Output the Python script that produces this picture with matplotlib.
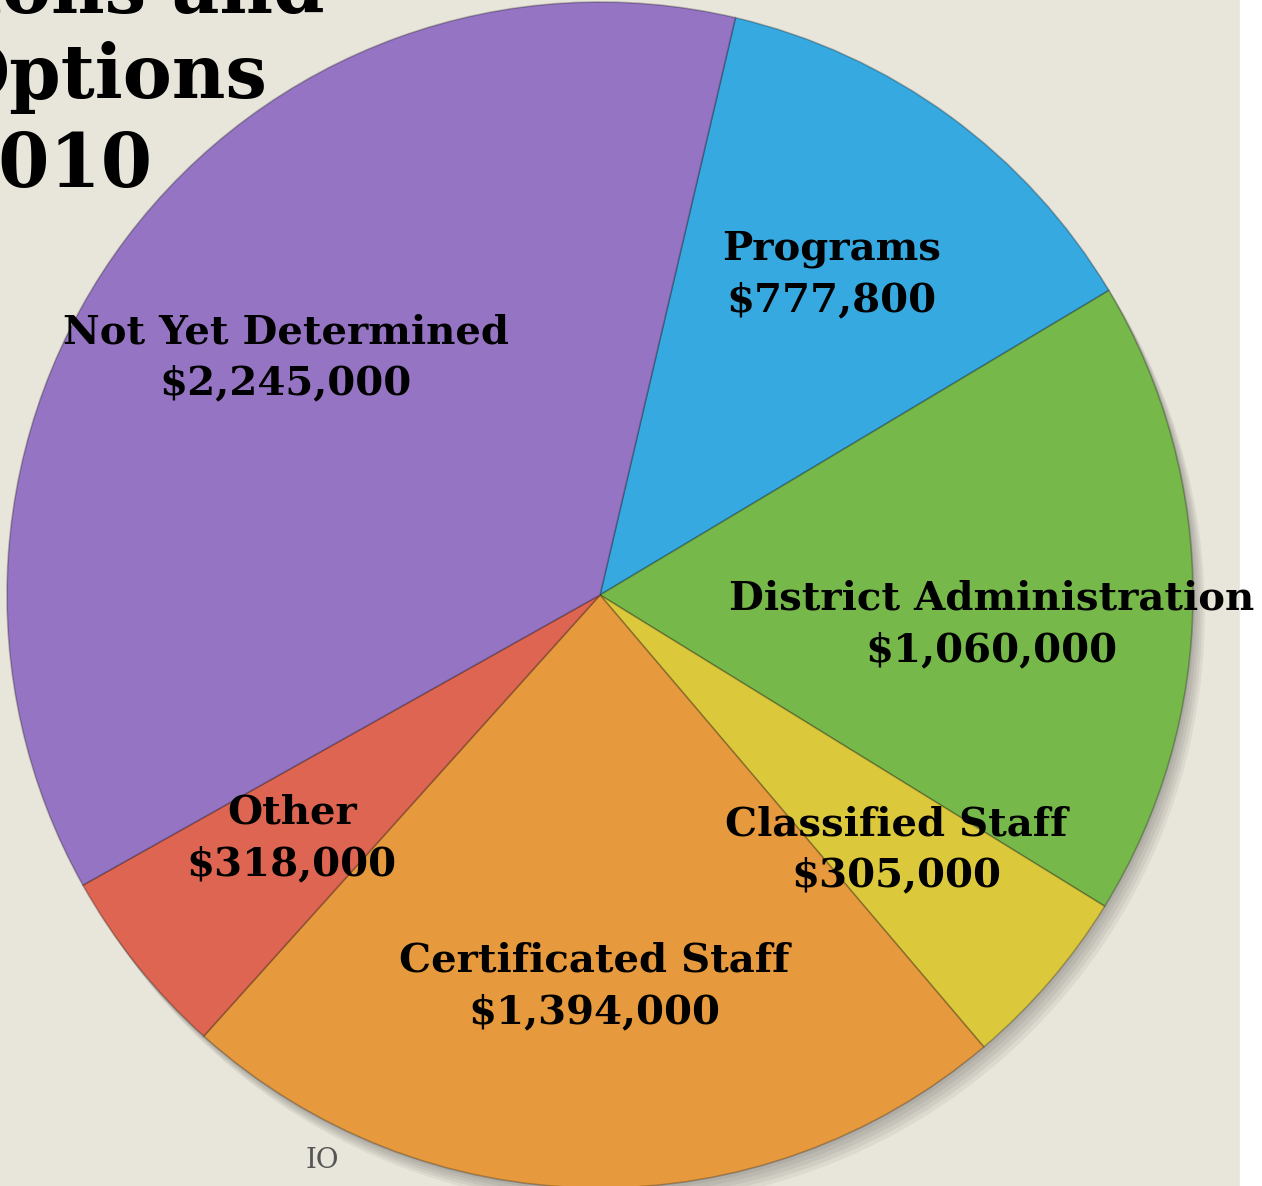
import numpy as np
import matplotlib.pyplot as plt
from matplotlib.patches import Rectangle, Circle

# budget split (clockwise from the top)
labels = ["Programs", "District Administration", "Classified Staff",
          "Certificated Staff", "Other", "Not Yet Determined"]
amounts = [777800, 1060000, 305000, 1394000, 318000, 2245000]
colors = ["#37a9e1", "#77b84b", "#dcc93b", "#e79a3d", "#de6551", "#9574c4"]

# label centres, in pie radius units
label_pos = [(0.39, 0.54), (0.66, -0.05), (0.50, -0.43),
             (-0.01, -0.66), (-0.52, -0.41), (-0.53, 0.40)]

fig = plt.figure(figsize=(12.62, 11.86), dpi=100)
fig.patch.set_facecolor("#e8e5da")
ax = fig.add_axes([0, 0, 1, 1])
ax.set_facecolor("#e8e5da")

R = 593.0
cx, cy = 600.0, 595.0

# soft shadow under the pie
for k in range(6):
    ax.add_patch(Circle((0.004 * k, -0.006 * k), 1.0, color="black",
                        alpha=0.05, zorder=1, lw=0))

start = 90 - 13.2
wedges, _ = ax.pie(amounts, colors=colors, startangle=start, counterclock=False,
                   radius=1.0, wedgeprops=dict(edgecolor="#00000040", linewidth=1.2))
for w in wedges:
    w.set_zorder(2)

ax.set_xlim(-cx / R, (1262 - cx) / R)
ax.set_ylim((cy - 1186) / R, cy / R)
ax.set_aspect("equal")
ax.axis("off")

# torn paper edge on the right
ax.add_patch(Rectangle(((1240 - cx) / R, -2), 1, 4, color="white", zorder=0))

font = "DejaVu Serif"
for lab, amt, (x, y) in zip(labels, amounts, label_pos):
    ax.text(x, y, f"{lab}\n${amt:,}", ha="center", va="center",
            fontsize=29, fontweight="bold", family=font,
            linespacing=1.45, zorder=5)

# slide title (cut off at the slide edge, as in the source) and page number
ax.text((325 - cx) / R, (cy + 8) / R, "ions and", ha="right", va="center",
        fontsize=53, fontweight="bold", family=font, zorder=5)
ax.text((268 - cx) / R, (cy - 78) / R, "Options", ha="right", va="center",
        fontsize=53, fontweight="bold", family=font, zorder=5)
ax.text((152 - cx) / R, (cy - 166) / R, "2010", ha="right", va="center",
        fontsize=53, fontweight="bold", family=font, zorder=5)
ax.text((322 - cx) / R, (cy - 1160) / R, "IO", ha="center", va="center",
        fontsize=20, color="#555555", family=font, zorder=5)

fig.savefig("out.png", dpi=100, facecolor=fig.get_facecolor())
